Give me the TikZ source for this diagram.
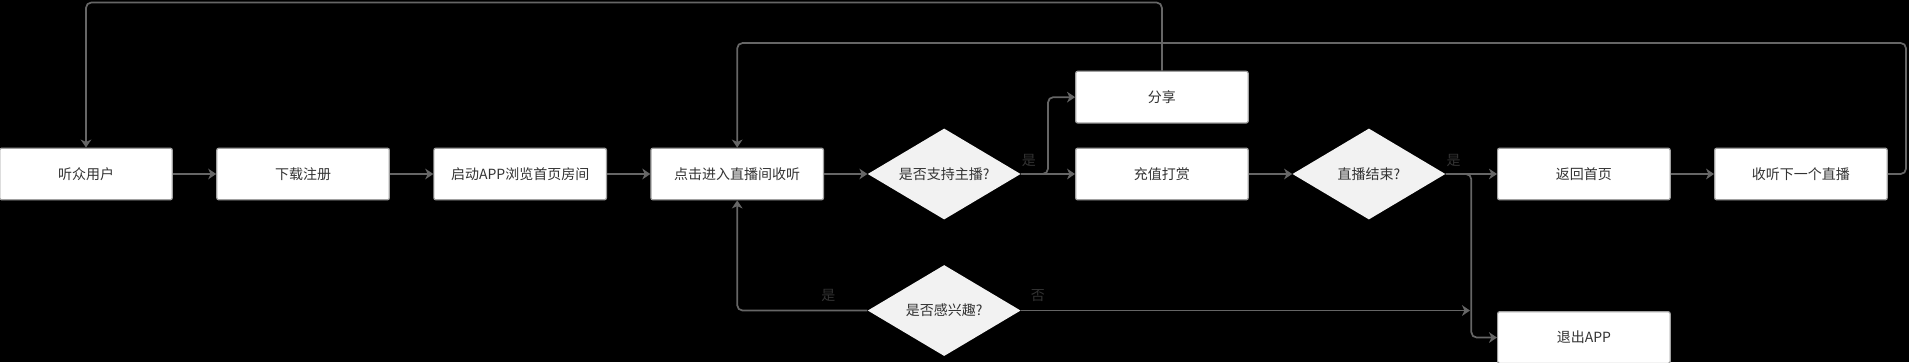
\documentclass[tikz,border=0pt]{standalone}
\usepackage{fontspec}
\setmainfont{Noto Sans CJK SC}
\usepackage{tikz}
\usetikzlibrary{positioning,calc,shapes.geometric,arrows.meta}
\definecolor{flowline}{RGB}{102,102,102}
\definecolor{boxedge}{RGB}{160,160,160}
\definecolor{decfill}{RGB}{242,242,242}
\definecolor{flowtext}{RGB}{51,51,51}

\begin{document}
\begin{tikzpicture}[
  x=0.75pt, y=-0.75pt,
  font=\fontsize{10.5pt}{12pt}\selectfont,
  stepbox/.style={rectangle, draw=boxedge, line width=0.9pt, fill=white, text=flowtext, minimum width=129.4pt, minimum height=38.75pt, rounded corners=1.5pt, inner sep=0pt},
  decision/.style={diamond, fill=decfill, text=flowtext, minimum width=114.75pt, minimum height=68.25pt, aspect=1.68, inner sep=0pt},
  lbl/.style={text=flowtext},
  edge/.style={-{Stealth[length=6pt, width=8pt, inset=1.8pt]}, line width=1.3pt, draw=flowline, rounded corners=4pt},
  node distance=32.5pt
]
% background and frame
\fill[black] (0,0) rectangle (1909,362);
\useasboundingbox (0,0) rectangle (1909,362);

% main row
\node[stepbox] (b1) at (86,174) {听众用户};
\node[stepbox, right=of b1] (b2) {下载注册};
\node[stepbox, right=of b2] (b3) {启动APP浏览首页房间};
\node[stepbox, right=of b3] (b4) {点击进入直播间收听};
\node[decision, right=of b4] (d1) {是否支持主播?};
\node[stepbox, right=40.6pt of d1] (pay) {充值打赏};
\node[stepbox, above=18pt of pay] (share) {分享};
\node[decision, right=of pay] (d3) {直播结束?};
\node[stepbox, right=38.5pt of d3] (home) {返回首页};
\node[stepbox, right=of home] (next) {收听下一个直播};
\node[stepbox, below=83pt of home] (quit) {退出APP};
\node[decision, below=33.75pt of d1] (d2) {是否感兴趣?};

% labels
\node[lbl] (yes1) at ([shift={(8,-14)}]d1.east) {是};
\node[lbl] (yes3) at ([shift={(8,-14)}]d3.east) {是};
\node[lbl] (yes2) at ([shift={(-39,-15)}]d2.west) {是};
\node[lbl] (no2) at ([shift={(17,-15)}]d2.east) {否};

% junctions and rails
\coordinate (j1) at ($(d1.east)!0.5!(pay.west)$);
\coordinate (j2) at ($(d3.east)!0.5!(home.west)$);
\coordinate (rail1) at (0,2.5);
\coordinate (rail2) at (1906,43);

% connectors
\draw[edge] (b1) -- (b2);
\draw[edge] (b2) -- (b3);
\draw[edge] (b3) -- (b4);
\draw[edge] (b4) -- (d1);
\draw[edge] (d1.east) -- (pay.west);
\draw[edge] (d1.east) -- (j1) |- (share.west);
\draw[edge] (pay) -- (d3);
\draw[edge] (d3.east) -- (home.west);
\draw[edge] (d3.east) -- (j2) |- (quit.west);
\draw[edge] (home) -- (next);
\draw[edge] (d2.west) -| (b4.south);
\draw[edge] (d2.east) -- ([xshift=-1pt]d2.east -| j2);
\draw[edge] (share.north) |- (rail1 -| b1.north) -- (b1.north);
\draw[edge] (next.east) -| (rail2) -- (rail2 -| b4.north) -- (b4.north);
\end{tikzpicture}
\end{document}
